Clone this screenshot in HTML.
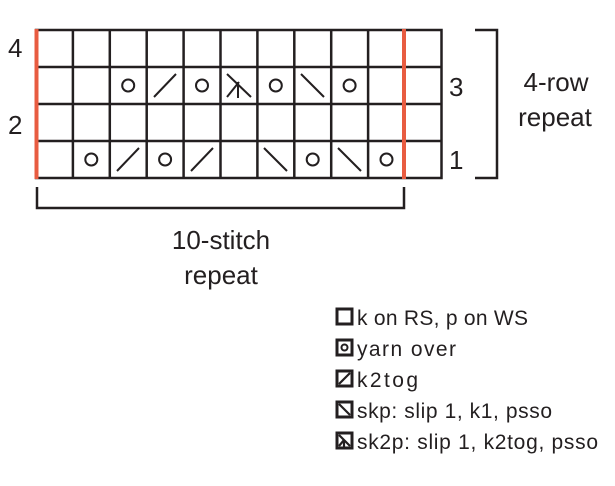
<!DOCTYPE html>
<html><head><style>body{margin:0;background:#fff}</style></head><body>
<svg width="615" height="481" xmlns="http://www.w3.org/2000/svg" font-family="Liberation Sans, sans-serif" fill="#231f20">
<g stroke="#231f20" stroke-width="2.5" fill="none">
<rect x="36" y="30" width="405.5" height="148"/>
<line x1="36" y1="67" x2="441.5" y2="67"/><line x1="36" y1="104" x2="441.5" y2="104"/><line x1="36" y1="141" x2="441.5" y2="141"/>
<line x1="72.9" y1="30" x2="72.9" y2="178"/><line x1="109.8" y1="30" x2="109.8" y2="178"/><line x1="146.7" y1="30" x2="146.7" y2="178"/><line x1="183.6" y1="30" x2="183.6" y2="178"/><line x1="220.5" y1="30" x2="220.5" y2="178"/><line x1="257.4" y1="30" x2="257.4" y2="178"/><line x1="294.3" y1="30" x2="294.3" y2="178"/><line x1="331.2" y1="30" x2="331.2" y2="178"/><line x1="368.1" y1="30" x2="368.1" y2="178"/>
</g>
<g stroke="#231f20" stroke-width="2" fill="none">
<circle cx="128.2" cy="85.5" r="6"/><circle cx="202" cy="85.5" r="6"/><circle cx="275.8" cy="85.5" r="6"/><circle cx="349.6" cy="85.5" r="6"/>
<line x1="154" y1="97" x2="176" y2="74"/>
<line x1="227" y1="74" x2="251" y2="97"/><line x1="227" y1="97" x2="239" y2="82"/><line x1="238" y1="82" x2="238" y2="98"/>
<line x1="301" y1="74" x2="324" y2="97"/>
<circle cx="91.3" cy="159.5" r="6"/><circle cx="165.1" cy="159.5" r="6"/><circle cx="312.7" cy="159.5" r="6"/><circle cx="386.5" cy="159.5" r="6"/>
<line x1="117" y1="171" x2="139" y2="148"/><line x1="191" y1="171" x2="213" y2="148"/>
<line x1="264" y1="148" x2="287" y2="171"/><line x1="338" y1="148" x2="361" y2="171"/>
</g>
<line x1="36.5" y1="29" x2="36.5" y2="179" stroke="#e85c41" stroke-width="4"/>
<line x1="404" y1="29" x2="404" y2="179" stroke="#e85c41" stroke-width="4"/>
<path d="M37 187 V208 H404 V187" stroke="#231f20" stroke-width="2.5" fill="none"/>
<path d="M475 30 H497 V178 H475" stroke="#231f20" stroke-width="2.5" fill="none"/>
<g font-size="26">
<text x="8" y="57">4</text><text x="8" y="134">2</text>
<text x="449" y="96">3</text><text x="449" y="169">1</text>
</g>
<g font-size="26" text-anchor="middle">
<text x="556" y="91">4-row</text><text x="555" y="126">repeat</text>
<text x="221" y="249">10-stitch</text><text x="221" y="284">repeat</text>
</g>
<g font-size="21">
<text x="357" y="325" textLength="171">k on RS, p on WS</text>
<text x="357" y="356" textLength="99">yarn over</text>
<text x="357" y="387" textLength="61">k2tog</text>
<text x="357" y="418" textLength="195">skp: slip 1, k1, psso</text>
<text x="357" y="449" textLength="241">sk2p: slip 1, k2tog, psso</text>
</g>
<g stroke="#231f20" stroke-width="3" fill="none">
<rect x="337" y="309" width="15" height="15"/>
<rect x="337" y="340" width="15" height="15"/><circle cx="344.5" cy="347.5" r="3" stroke-width="2"/>
<rect x="337" y="371" width="15" height="15"/><line x1="339" y1="384" x2="350" y2="373" stroke-width="2.2"/>
<rect x="337" y="402" width="15" height="15"/><line x1="339" y1="404" x2="350" y2="415" stroke-width="2.2"/>
<rect x="337" y="433" width="15" height="15"/><line x1="339" y1="435" x2="350" y2="446" stroke-width="2.2"/><line x1="339" y1="446" x2="344" y2="440" stroke-width="2.2"/><line x1="344" y1="440" x2="344" y2="447" stroke-width="2.2"/>
</g>
</svg>
</body></html>
